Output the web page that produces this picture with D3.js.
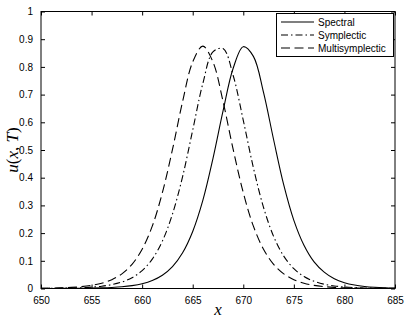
<!DOCTYPE html>
<html lang="en">
<head>
  <meta charset="UTF-8">
  <title>u(x,T)</title>
  <script src="https://d3js.org/d3.v7.min.js"></script>
  <style>
    body { margin: 0; background: #fff; }
    text { font-family: "Liberation Sans", Arial, Helvetica, sans-serif; font-size: 10px; fill: #000; }
    .math { font-family: "Liberation Serif", "Times New Roman", serif; font-size: 17px; }
    .curve { fill: none; stroke: #000; stroke-width: 1.1px; }
  </style>
</head>
<body>
  <script>
    // grid of x values
    const xs = d3.range(650, 686);

    // values
    const spectral = [0.0001, 0.0002, 0.0003, 0.0005, 0.0008, 0.0013, 0.0022, 0.0037, 0.0061, 0.0103,
      0.0172, 0.0288, 0.0479, 0.079, 0.129, 0.206, 0.318, 0.469, 0.641, 0.795,
      0.873, 0.838, 0.708, 0.537, 0.374, 0.246, 0.156, 0.096, 0.059, 0.035,
      0.021, 0.0126, 0.0075, 0.0045, 0.0027, 0.0016];
    const symplectic = [0.0004, 0.0006, 0.0011, 0.0018, 0.0030, 0.0050, 0.0084, 0.0140, 0.0235, 0.0391,
      0.0647, 0.106, 0.171, 0.269, 0.404, 0.572, 0.740, 0.854, 0.866, 0.769,
      0.607, 0.436, 0.293, 0.188, 0.117, 0.0715, 0.0433, 0.0260, 0.0155, 0.0093,
      0.0055, 0.0033, 0.0020, 0.0012, 0.0007, 0.0004];
    const multisymplectic = [0.0009, 0.0014, 0.0024, 0.0041, 0.0068, 0.0114, 0.0191, 0.0319, 0.0530, 0.0872,
      0.142, 0.225, 0.346, 0.502, 0.675, 0.818, 0.875, 0.818, 0.675, 0.502,
      0.346, 0.225, 0.142, 0.0872, 0.0530, 0.0319, 0.0191, 0.0114, 0.0068, 0.0041,
      0.0024, 0.0014, 0.0009, 0.0005, 0.0003, 0.0002];

    const seriesNames = ['Spectral', 'Symplectic', 'Multisymplectic'];
    const xTicks = [650, 655, 660, 665, 670, 675, 680, 685];
    const yTicks = [0, 0.1, 0.2, 0.3, 0.4, 0.5, 0.6, 0.7, 0.8, 0.9, 1];

    const dashes = ['none', '7,3,1.5,3', '9,4.5'];

    const width = 407, height = 318;
    const pLeft = 41, pRight = 395, pTop = 11.5, pBottom = 288.5;

    const svg = d3.select('body').append('svg')
      .attr('width', width)
      .attr('height', height);

    const x = d3.scaleLinear().domain([650, 685]).range([pLeft, pRight]);
    const y = d3.scaleLinear().domain([0, 1]).range([pBottom, pTop]);

    svg.append('clipPath').attr('id', 'clip')
      .append('rect')
      .attr('x', pLeft).attr('y', pTop)
      .attr('width', pRight - pLeft).attr('height', pBottom - pTop);

    const line = d3.line()
      .x((d, i) => x(xs[i]))
      .y(d => y(d))
      .curve(d3.curveCatmullRom.alpha(0.5));

    const allSeries = [spectral, symplectic, multisymplectic];

    svg.append('g')
      .attr('clip-path', 'url(#clip)')
      .selectAll('path')
      .data(allSeries)
      .enter().append('path')
      .attr('class', 'curve')
      .attr('stroke-dasharray', (d, i) => dashes[i])
      .attr('d', line);

    // axes, ticks inside
    const tickLen = 4;
    svg.append('g')
      .attr('transform', `translate(0,${pBottom})`)
      .call(d3.axisBottom(x).tickValues(xTicks).tickSizeInner(-tickLen).tickSizeOuter(0).tickPadding(8))
      .call(g => g.select('.domain').remove());
    svg.append('g')
      .attr('transform', `translate(0,${pTop})`)
      .call(d3.axisTop(x).tickValues(xTicks).tickSizeInner(-tickLen).tickSizeOuter(0).tickFormat(''))
      .call(g => g.select('.domain').remove());
    svg.append('g')
      .attr('transform', `translate(${pLeft},0)`)
      .call(d3.axisLeft(y).tickValues(yTicks).tickSizeInner(-tickLen).tickSizeOuter(0).tickPadding(8)
        .tickFormat(d => d3.format('')(+d.toFixed(1))))
      .call(g => g.select('.domain').remove());
    svg.append('g')
      .attr('transform', `translate(${pRight},0)`)
      .call(d3.axisRight(y).tickValues(yTicks).tickSizeInner(-tickLen).tickSizeOuter(0).tickFormat(''))
      .call(g => g.select('.domain').remove());

    svg.selectAll('.tick text')
      .style('font-family', '"Liberation Sans", Arial, Helvetica, sans-serif')
      .style('font-size', '10px');

    // frame
    svg.append('rect')
      .attr('x', pLeft).attr('y', pTop)
      .attr('width', pRight - pLeft).attr('height', pBottom - pTop)
      .attr('fill', 'none').attr('stroke', '#000').attr('stroke-width', 1);

    // axis labels
    svg.append('text')
      .attr('class', 'math')
      .attr('x', (pLeft + pRight) / 2)
      .attr('y', 315)
      .attr('text-anchor', 'middle')
      .style('font-style', 'italic')
      .text('x');

    const yl = svg.append('text')
      .attr('class', 'math')
      .attr('text-anchor', 'middle')
      .attr('transform', `translate(18,${(pTop + pBottom) / 2}) rotate(-90)`);
    [['u', true], ['(', false], ['x', true], [', ', false], ['T', true], [')', false]].forEach(p => {
      yl.append('tspan').style('font-style', p[1] ? 'italic' : 'normal').text(p[0]);
    });

    // legend
    const lg = svg.append('g');
    lg.append('rect')
      .attr('x', 276.5).attr('y', 13.5)
      .attr('width', 117).attr('height', 43)
      .attr('fill', '#fff').attr('stroke', '#000').attr('stroke-width', 1);
    seriesNames.forEach((name, i) => {
      const ry = 22 + i * 13;
      lg.append('line')
        .attr('x1', 281).attr('x2', 314)
        .attr('y1', ry).attr('y2', ry)
        .attr('stroke', '#000').attr('stroke-width', 1.1)
        .attr('stroke-dasharray', dashes[i]);
      lg.append('text')
        .attr('x', 318).attr('y', ry + 3.5)
        .text(name);
    });
  </script>
</body>
</html>
